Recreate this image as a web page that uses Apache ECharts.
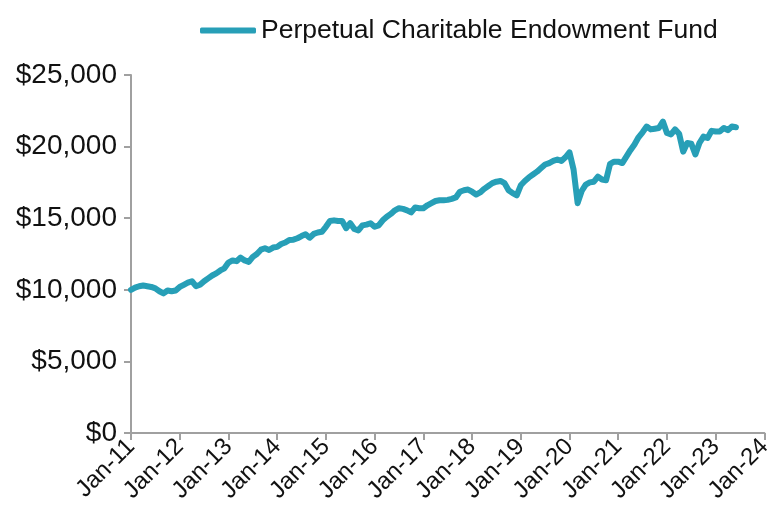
<!DOCTYPE html>
<html>
<head>
<meta charset="utf-8">
<script src="https://cdn.jsdelivr.net/npm/echarts@6/dist/echarts.min.js"></script>
<style>
  html, body { margin: 0; padding: 0; background: #fff; }
  #chart { width: 775px; height: 520px; }
</style>
</head>
<body>
<div id="chart"></div>
<script>
// 基金月度净值 (Jan-11 起，每月一个点)
var seriesName = 'Perpetual Charitable Endowment Fund';
var tickLabels = ['Jan-11', 'Jan-12', 'Jan-13', 'Jan-14', 'Jan-15', 'Jan-16', 'Jan-17',
                  'Jan-18', 'Jan-19', 'Jan-20', 'Jan-21', 'Jan-22', 'Jan-23', 'Jan-24'];
var fundValues = [
  // 2011
  10000, 10150, 10250, 10300, 10250, 10200, 10100, 9900, 9750, 9950, 9900, 9950,
  // 2012
  10200, 10350, 10500, 10600, 10250, 10350, 10600, 10800, 11000, 11150, 11350, 11500,
  // 2013
  11900, 12050, 12000, 12250, 12050, 11950, 12300, 12500, 12800, 12900, 12780, 12950,
  // 2014
  13000, 13200, 13300, 13480, 13500, 13600, 13750, 13880, 13640, 13900, 14000, 14050,
  // 2015
  14400, 14800, 14850, 14800, 14800, 14300, 14650, 14250, 14150, 14500, 14550, 14650,
  // 2016
  14400, 14500, 14850, 15100, 15300, 15550, 15700, 15650, 15550, 15400, 15750, 15700,
  // 2017
  15700, 15900, 16050, 16200, 16250, 16250, 16280, 16350, 16450, 16850, 16950, 17000,
  // 2018
  16850, 16650, 16800, 17050, 17250, 17450, 17550, 17600, 17450, 16950, 16750, 16600,
  // 2019
  17300, 17600, 17850, 18050, 18250, 18500, 18750, 18850, 19000, 19100, 19000, 19250,
  // 2020
  19600, 18400, 16050, 16900, 17350, 17500, 17550, 17900, 17700, 17650, 18800, 18950,
  // 2021
  18950, 18850, 19300, 19750, 20150, 20650, 21000, 21400, 21200, 21250, 21300, 21750,
  // 2022
  20950, 20850, 21200, 20900, 19650, 20250, 20200, 19450, 20250, 20700, 20600, 21100,
  // 2023
  21050, 21050, 21300, 21150, 21400, 21350
];

var chart = echarts.init(document.getElementById('chart'));
var axisGray = '#a0a0a0';
var font = '"Liberation Sans", Arial, sans-serif';

option = {
    animation: false,
    legend: {
        data: [seriesName],
        left: 200,
        top: 17,
        padding: 0,
        icon: 'roundRect',
        itemWidth: 56,
        itemHeight: 6,
        textStyle: {
            color: '#111',
            fontFamily: font,
            fontSize: 26.5
        }
    },
    grid: {
        left: 131,
        right: 4,
        top: 75,
        bottom: 87
    },
    xAxis: {
        type: 'value',
        min: 0,
        max: 156,
        interval: 12,
        splitLine: { show: false },
        axisLine: { lineStyle: { color: axisGray, width: 2 } },
        axisTick: { length: 7, lineStyle: { color: axisGray, width: 2 } },
        axisLabel: {
            rotate: 45,
            margin: 10,
            color: '#111',
            fontFamily: font,
            fontSize: 24,
            formatter: function (v) { return tickLabels[v / 12]; }
        }
    },
    yAxis: {
        type: 'value',
        min: 0,
        max: 25000,
        interval: 5000,
        splitLine: { show: false },
        axisLine: { show: true, lineStyle: { color: axisGray, width: 2 } },
        axisTick: { show: true, length: 7, lineStyle: { color: axisGray, width: 2 } },
        axisLabel: {
            margin: 14,
            color: '#111',
            fontFamily: font,
            fontSize: 28,
            formatter: function (v) {
                return '$' + v.toString().replace(/\B(?=(\d{3})+(?!\d))/g, ',');
            }
        }
    },
    series: [{
        name: seriesName,
        type: 'line',
        showSymbol: false,
        symbol: 'none',
        data: fundValues.map(function (v, i) { return [i, v]; }),
        itemStyle: { color: '#279fb7' },
        lineStyle: { color: '#279fb7', width: 6, join: 'round', cap: 'round' }
    }]
};
chart.setOption(option);
</script>
</body>
</html>
